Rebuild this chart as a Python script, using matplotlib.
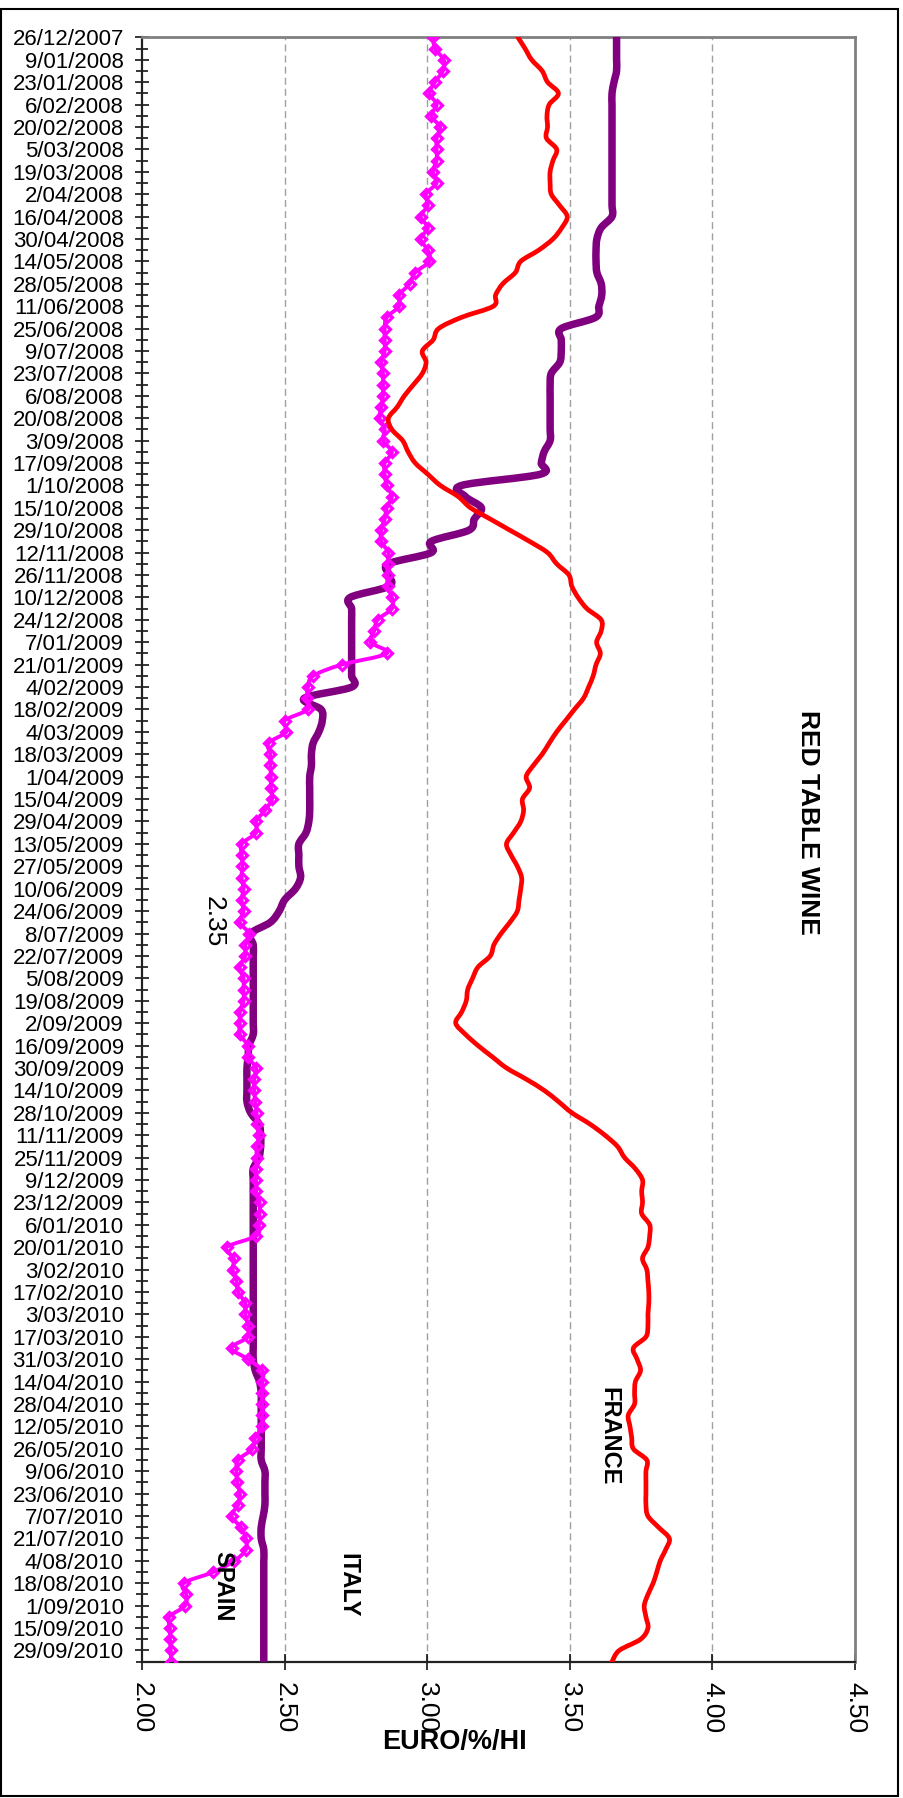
import matplotlib
matplotlib.use("Agg")
import matplotlib.pyplot as plt
from matplotlib.patches import Rectangle, PathPatch
from matplotlib.path import Path
import pandas as pd
import numpy as np

plt.rcParams['font.family'] = ['Liberation Sans', 'DejaVu Sans']

# ---- data ----
dates = pd.date_range("2007-12-26", periods=146, freq="7D")
date_labels = [f"{d.day}/{d.month:02d}/{d.year}" for d in dates]

france = [3.318, 3.343, 3.366, 3.403, 3.422, 3.46, 3.428, 3.42, 3.422, 3.418,
          3.454, 3.441, 3.431, 3.431, 3.435, 3.464, 3.491, 3.472, 3.441, 3.391,
          3.328, 3.309, 3.265, 3.24, 3.232, 3.12, 3.04, 3.021, 2.983, 2.996,
          2.983, 2.952, 2.92, 2.895, 2.864, 2.876, 2.914, 2.933, 2.958, 3.002,
          3.046, 3.109, 3.152, 3.221, 3.29, 3.359, 3.422, 3.454, 3.497, 3.507,
          3.529, 3.56, 3.61, 3.61, 3.594, 3.607, 3.592, 3.582, 3.566, 3.548,
          3.516, 3.485, 3.454, 3.428, 3.403, 3.372, 3.347, 3.359, 3.334, 3.338,
          3.328, 3.303, 3.278, 3.294, 3.316, 3.331, 3.328, 3.322, 3.316, 3.29,
          3.259, 3.234, 3.221, 3.178, 3.159, 3.142, 3.137, 3.121, 3.10, 3.134,
          3.178, 3.228, 3.278, 3.347, 3.41, 3.46, 3.507, 3.57, 3.623, 3.667,
          3.692, 3.73, 3.755, 3.752, 3.755, 3.752, 3.78, 3.78, 3.774, 3.755,
          3.77, 3.774, 3.777, 3.777, 3.774, 3.774, 3.767, 3.723, 3.736, 3.748,
          3.73, 3.727, 3.727, 3.705, 3.711, 3.717, 3.723, 3.77, 3.767, 3.767,
          3.767, 3.767, 3.774, 3.811, 3.849, 3.836, 3.817, 3.805, 3.792, 3.774,
          3.761, 3.767, 3.774, 3.748, 3.673, 3.648]

italy = ([3.664, 3.664, 3.664, 3.664, 3.655, 3.648]
         + [3.648] * 11
         + [3.61, 3.595, 3.592, 3.592, 3.595, 3.61, 3.612, 3.602, 3.59]
         + [3.47, 3.47, 3.47, 3.465, 3.435]
         + [3.431] * 6
         + [3.41, 3.40, 3.397, 3.121, 3.134, 3.19, 3.165, 3.146, 3.014, 3.014,
            2.864, 2.866, 2.866]
         + [2.73]
         + [2.735] * 8
         + [2.569, 2.628, 2.632, 2.62, 2.60, 2.594, 2.594, 2.588, 2.588, 2.588,
            2.588, 2.585, 2.575, 2.55, 2.55, 2.55, 2.556, 2.538, 2.50, 2.481,
            2.45, 2.381]
         + [2.39] * 9
         + [2.375, 2.372, 2.368, 2.368, 2.368, 2.368, 2.381, 2.41, 2.416, 2.416,
            2.41]
         + [2.39] * 18
         + [2.397, 2.412, 2.418]
         + [2.418] * 6
         + [2.431] * 4
         + [2.425, 2.418, 2.418]
         + [2.427] * 11)

spain = [3.021, 3.027, 3.058, 3.055, 3.027, 3.008, 3.033, 3.014, 3.045, 3.033,
         3.033, 3.033, 3.02, 3.033, 2.995, 3.002, 2.977, 3.002, 2.977, 3.002,
         3.008, 2.958, 2.939, 2.902, 2.902, 2.858, 2.851, 2.851, 2.851, 2.839,
         2.845, 2.845, 2.845, 2.839, 2.833, 2.851, 2.845, 2.876, 2.851, 2.851,
         2.858, 2.876, 2.858, 2.851, 2.839, 2.839, 2.864, 2.861, 2.861, 2.861,
         2.876, 2.876, 2.826, 2.814, 2.801, 2.858, 2.70, 2.60, 2.582, 2.578,
         2.582, 2.50, 2.506, 2.444, 2.45, 2.45, 2.452, 2.452, 2.456, 2.431,
         2.40, 2.40, 2.35, 2.35, 2.352, 2.349, 2.356, 2.349, 2.356, 2.343,
         2.375, 2.362, 2.362, 2.343, 2.356, 2.356, 2.356, 2.343, 2.343, 2.343,
         2.371, 2.371, 2.40, 2.393, 2.393, 2.397, 2.402, 2.402, 2.41, 2.402,
         2.402, 2.40, 2.40, 2.40, 2.412, 2.412, 2.41, 2.40, 2.297, 2.322,
         2.318, 2.331, 2.337, 2.362, 2.362, 2.372, 2.372, 2.314, 2.372, 2.422,
         2.422, 2.422, 2.422, 2.422, 2.422, 2.397, 2.387, 2.337, 2.331, 2.334,
         2.343, 2.337, 2.314, 2.347, 2.364, 2.364, 2.324, 2.249, 2.146, 2.155,
         2.151, 2.096, 2.098, 2.098, 2.101, 2.101]

x_ticks = [2.00, 2.50, 3.00, 3.50, 4.00, 4.50]


def smooth_path(xs, ys):
    """Excel-style smoothed line as a cubic Bezier path through the data."""
    pts = np.column_stack([xs, ys]).astype(float)
    n = len(pts)
    verts = [pts[0]]
    codes = [Path.MOVETO]
    for i in range(n - 1):
        p0 = pts[i - 1] if i > 0 else pts[i]
        p1 = pts[i]
        p2 = pts[i + 1]
        p3 = pts[i + 2] if i + 2 < n else pts[i + 1]
        verts += [p1 + (p2 - p0) / 6.0, p2 - (p3 - p1) / 6.0, p2]
        codes += [Path.CURVE4] * 3
    return Path(verts, codes)


# ---- figure ----
W, H = 904, 1798
fig = plt.figure(figsize=(W / 100, H / 100), dpi=100)
fig.patch.set_facecolor('white')

L, R, T, B = 142, 855, 37.3, 1661.7
ax = fig.add_axes([L / W, 1 - B / H, (R - L) / W, (B - T) / H])

idx = np.arange(len(dates))

ax.add_patch(PathPatch(smooth_path(italy, idx), fill=False, edgecolor='#800080',
                       lw=5.4, joinstyle='round', capstyle='round', zorder=3))
ax.add_patch(PathPatch(smooth_path(spain, idx), fill=False, edgecolor='#FF00FF',
                       lw=2.8, joinstyle='round', capstyle='round', zorder=4))
ax.plot(spain, idx, linestyle='none', marker='D', markersize=5.5,
        markerfacecolor='none', markeredgecolor='#FF00FF', markeredgewidth=2.3,
        zorder=4)
ax.add_patch(PathPatch(smooth_path(france, idx), fill=False, edgecolor='#FF0000',
                       lw=3.4, joinstyle='round', capstyle='round', zorder=5))

ax.set_xlim(2.0, 4.5)
ax.set_ylim(len(dates) - 1, 0)

ax.set_xticks(x_ticks)
ax.set_xticklabels([f"{v:.2f}" for v in x_ticks], rotation=-90, fontsize=19)
ax.set_yticks(idx[::2])
ax.set_yticklabels(date_labels[::2], fontsize=16)
ax.set_yticks(idx[1::2], minor=True)

ax.tick_params(axis='y', which='major', direction='inout', length=10, width=1.1,
               pad=8, color='black')
ax.tick_params(axis='y', which='minor', direction='inout', length=8, width=1.1,
               color='black')
ax.tick_params(axis='x', which='major', direction='inout', length=11, width=1.1,
               pad=9, color='black')

for gx in x_ticks[1:-1]:
    ax.axvline(gx, color='#A0A0A0', lw=1.0, linestyle=(0, (5, 3)), zorder=1)

for side in ('top', 'right'):
    ax.spines[side].set_color('#808080')
    ax.spines[side].set_linewidth(2.0)
for side in ('left', 'bottom'):
    ax.spines[side].set_color('#222222')
    ax.spines[side].set_linewidth(1.6)

# axis title
fig.text(455 / W, 1 - 1742 / H, "EURO/%/HI", fontsize=19.5, fontweight='bold',
         ha='center', va='center')

# annotations
ax.text(4.335, 70.1, "RED TABLE WINE", rotation=-90, fontsize=19,
        fontweight='bold', ha='center', va='center')
ax.text(3.637, 124.9, "FRANCE", rotation=-90, fontsize=17, fontweight='bold',
        ha='center', va='center')
ax.text(2.722, 138.2, "ITALY", rotation=-90, fontsize=17, fontweight='bold',
        ha='center', va='center')
ax.text(2.284, 138.3, "SPAIN", rotation=-90, fontsize=17, fontweight='bold',
        ha='center', va='center', zorder=6)
ax.text(2.252, 78.9, "2.35", rotation=-90, fontsize=19, ha='center',
        va='center')

# outer frame
fig.add_artist(Rectangle((1 / W, 1 - 1796 / H), 897 / W, 1787 / H,
                         transform=fig.transFigure, fill=False,
                         edgecolor='black', lw=1.5))

fig.savefig("out.png", dpi=100, facecolor='white')
